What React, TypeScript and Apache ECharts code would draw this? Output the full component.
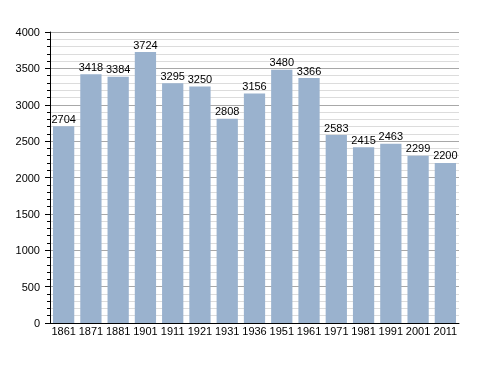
import React, { useEffect, useRef } from "react";
import * as echarts from "echarts";

const years = ["1861", "1871", "1881", "1901", "1911", "1921", "1931", "1936", "1951", "1961", "1971", "1981", "1991", "2001", "2011"];
const population = [2704, 3418, 3384, 3724, 3295, 3250, 2808, 3156, 3480, 3366, 2583, 2415, 2463, 2299, 2200];

export default function App() {
  const ref = useRef<HTMLDivElement>(null);
  useEffect(() => {
    const chart = echarts.init(ref.current!, null, { renderer: "svg" });
    chart.setOption({
      animation: false,
      grid: { left: 50, right: 29, top: 32, bottom: 50, containLabel: false },
      xAxis: {
        type: "category",
        data: years,
        axisLine: { lineStyle: { color: "#000", width: 1 } },
        axisTick: { show: false },
        axisLabel: { color: "#000", fontFamily: "Liberation Sans, Arial", fontSize: 11, margin: 2, interval: 0 },
      },
      yAxis: {
        type: "value",
        min: 0,
        max: 4000,
        interval: 500,
        axisLine: { show: true, lineStyle: { color: "#000", width: 1 } },
        axisTick: { show: true, length: 5, lineStyle: { color: "#000" } },
        minorTick: { show: true, splitNumber: 5, length: 3, lineStyle: { color: "#000" } },
        splitLine: { show: true, lineStyle: { color: "#a8a8a8", width: 1 } },
        minorSplitLine: { show: true, lineStyle: { color: "#dcdcdc", width: 1 } },
        axisLabel: {
          color: "#000",
          fontFamily: "Liberation Sans, Arial",
          fontSize: 11,
          margin: 10,
          formatter: (v: number) => String(v),
        },
      },
      series: [
        {
          type: "bar",
          data: population,
          barCategoryGap: "22%",
          itemStyle: { color: "#9ab2ce" },
          label: {
            show: true,
            position: "top",
            distance: 2,
            color: "#000",
            fontFamily: "Liberation Sans, Arial",
            fontSize: 11,
          },
        },
      ],
    });
    return () => chart.dispose();
  }, []);
  return <div ref={ref} style={{ position: "fixed", left: 0, top: 0, width: 488, height: 373 }} />;
}
